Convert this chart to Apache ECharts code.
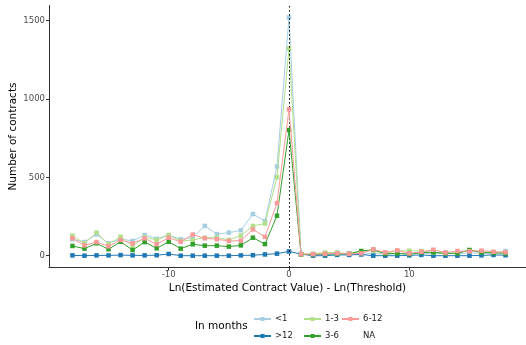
<!DOCTYPE html>
<html><head><meta charset="utf-8">
<script src="https://cdn.jsdelivr.net/npm/echarts@6/dist/echarts.min.js"></script>
<style>html,body{margin:0;padding:0;background:#fff}#c{width:526px;height:345px}</style>
</head><body><div id="c"></div>
<script>
const xValues = [-18,-17,-16,-15,-14,-13,-12,-11,-10,-9,-8,-7,-6,-5,-4,-3,-2,-1,0,1,2,3,4,5,6,7,8,9,10,11,12,13,14,15,16,17,18];
const lt1   = [105,87,136,79,107,94,132,108,130,105,117,190,138,147,162,266,221,570,1521,10,10,8,12,12,10,14,10,12,10,15,12,20,12,18,15,15,30];
const gt12  = [2,0,2,2,4,2,2,3,11,0,0,0,0,0,2,3,8,13,27,10,0,0,5,5,8,0,0,0,2,5,0,0,0,0,2,5,3];
const m1_3  = [128,79,147,73,121,60,117,100,132,94,100,115,117,100,128,190,205,500,1323,8,12,20,20,14,28,32,15,30,32,30,20,15,18,36,25,20,18];
const m3_6  = [62,45,79,41,89,36,87,47,89,45,73,64,64,58,66,115,74,255,802,8,8,10,12,12,30,38,12,15,10,20,22,15,15,36,20,18,15];
const m6_12 = [111,66,87,60,100,79,111,73,115,89,135,111,105,94,96,168,120,336,934,10,10,12,15,12,15,40,21,34,15,25,38,20,30,28,32,25,22];
const seriesNames = ['<1','>12','1-3','3-6','6-12','NA'];
const seriesColors = ['#A6CEE3','#1F78B4','#B2DF8A','#33A02C','#FB9A99','rgba(0,0,0,0)'];
const seriesData = [lt1, gt12, m1_3, m3_6, m6_12, []];
const yTicks = [0,500,1000,1500];
const xTicks = [-10,0,10];

const font = 'DejaVu Sans';
const series = seriesNames.map((n,i)=>({
  name:n, type:'line', symbol:'rect', symbolSize:4.5,
  data: seriesData[i].map((v,j)=>[xValues[j], v]),
  lineStyle:{width:1, color:seriesColors[i]},
  itemStyle:{color:seriesColors[i]},
  emphasis:{disabled:true}, animation:false, z: 2+i
}));
series[0].markLine = {
  silent:true, symbol:'none', animation:false,
  label:{show:false},
  lineStyle:{type:[1.5,2.5], color:'#000', width:1},
  data:[{xAxis:0}]
};
const legendCommon = {
  orient:'vertical', itemWidth:17, itemHeight:5, itemGap:8,
  textStyle:{fontFamily:font, fontSize:8.5, color:'#1a1a1a', padding:[0,0,0,-1]},
  padding:0, selectedMode:false
};
const chart = echarts.init(document.getElementById('c'), null, {renderer:'canvas'});
chart.setOption({
  backgroundColor:'#fff',
  animation:false,
  grid:{left:49, right:0, top:5.5, bottom:77.4, containLabel:false, outerBoundsMode:'none'},
  xAxis:{
    type:'value', min:-19.95, max:19.7,
    name:'Ln(Estimated Contract Value) - Ln(Threshold)', nameLocation:'middle', nameGap:15, nameMoveOverlap:false,
    nameTextStyle:{fontFamily:font, fontSize:10.5, color:'#000'},
    axisLine:{show:true, onZero:false, lineStyle:{color:'#333', width:1}},
    axisTick:{show:true, length:3, customValues:xTicks, lineStyle:{color:'#333'}},
    axisLabel:{customValues:xTicks, formatter:v=>String(v), fontFamily:font, fontSize:8.5, color:'#4d4d4d', margin:3},
    splitLine:{show:false}
  },
  yAxis:{
    type:'value', min:-76, max:1597,
    name:'Number of contracts', nameLocation:'middle', nameGap:30, nameMoveOverlap:false,
    nameTextStyle:{fontFamily:font, fontSize:10.5, color:'#000'},
    axisLine:{show:true, onZero:false, lineStyle:{color:'#333', width:1}},
    axisTick:{show:true, length:3, customValues:yTicks, lineStyle:{color:'#333'}},
    axisLabel:{customValues:yTicks, formatter:v=>String(v), fontFamily:font, fontSize:8.5, color:'#4d4d4d', margin:4},
    splitLine:{show:false}
  },
  legend:[
    Object.assign({left:253, top:314.5, data:['<1','>12']}, legendCommon),
    Object.assign({left:303, top:314.5, data:['1-3','3-6']}, legendCommon),
    Object.assign({left:341, top:314.5, data:['6-12','NA']}, legendCommon)
  ],
  graphic:[{type:'text', left:195, top:321, style:{text:'In months', font:'10.5px "DejaVu Sans"', fill:'#000'}}],
  series: series
});
</script></body></html>
